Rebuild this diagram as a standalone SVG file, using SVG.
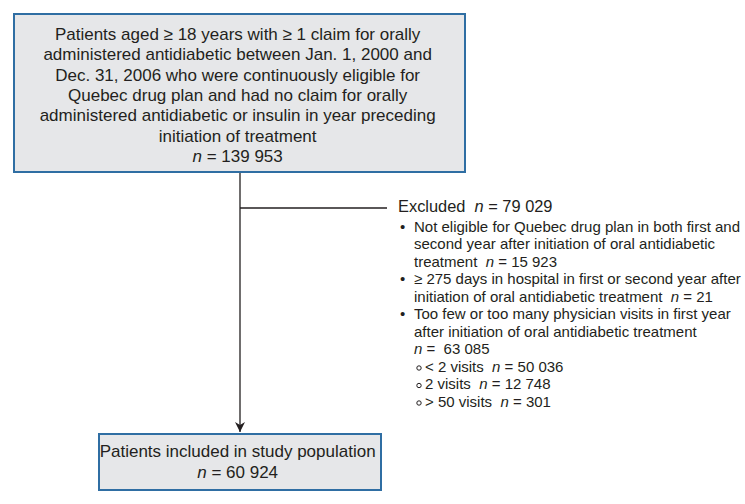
<svg xmlns="http://www.w3.org/2000/svg" width="745" height="504" viewBox="0 0 745 504">
<defs>
<style>
.box{fill:#e6e7e9;stroke:#2f6ea3;stroke-width:2}
.t{font-family:"Liberation Sans",Arial,sans-serif;fill:#231f20;white-space:pre}
.c{font-size:17px;text-anchor:middle}
.l{font-size:15px}
.h{font-size:16.4px}
.conn{stroke:#231f20;stroke-width:1.3;fill:none}
.sub{fill:none;stroke:#231f20;stroke-width:1}
</style>
<marker id="arr" markerWidth="12" markerHeight="12" refX="10" refY="5" orient="auto" markerUnits="userSpaceOnUse">
<path d="M0,0 L10,5 L0,10 L3,5 Z" fill="#231f20"/>
</marker>
</defs>
<g id="connectors">
<line class="conn" x1="240" y1="172" x2="240" y2="432" marker-end="url(#arr)"/>
<line class="conn" x1="240" y1="208" x2="387" y2="208"/>
</g>
<g id="source">
<rect class="box" x="14" y="14" width="451" height="158"/>
<text class="t c" x="240">
<tspan x="240" y="40">Patients aged ≥ 18 years with ≥ 1 claim for orally</tspan>
<tspan x="240" y="60.3">administered antidiabetic between Jan. 1, 2000 and</tspan>
<tspan x="240" y="80.6">Dec. 31, 2006 who were continuously eligible for</tspan>
<tspan x="240" y="100.9">Quebec drug plan and had no claim for orally</tspan>
<tspan x="240" y="121.2">administered antidiabetic or insulin in year preceding</tspan>
<tspan x="240" y="141.5">initiation of treatment</tspan>
<tspan x="240" y="161.8"><tspan font-style="italic">n</tspan> = 139 953</tspan>
</text>
</g>
<g id="excluded">
<text class="t h" x="398" y="211.5">Excluded  <tspan font-style="italic">n</tspan> = 79 029</text>
<text class="t l"><tspan x="400" y="231.5">•</tspan><tspan x="414" y="231.5">Not eligible for Quebec drug plan in both first and</tspan><tspan x="414" y="249">second year after initiation of oral antidiabetic</tspan><tspan x="414" y="266.5">treatment  <tspan font-style="italic">n</tspan> = 15 923</tspan><tspan x="400" y="284">•</tspan><tspan x="414" y="284">≥ 275 days in hospital in first or second year after</tspan><tspan x="414" y="301.5">initiation of oral antidiabetic treatment  <tspan font-style="italic">n</tspan> = 21</tspan><tspan x="400" y="319">•</tspan><tspan x="414" y="319">Too few or too many physician visits in first year</tspan><tspan x="414" y="336.5">after initiation of oral antidiabetic treatment</tspan><tspan x="414" y="354"><tspan font-style="italic">n</tspan> =  63 085</tspan><tspan x="425" y="371.5">&lt; 2 visits  <tspan font-style="italic">n</tspan> = 50 036</tspan><tspan x="425" y="389">2 visits  <tspan font-style="italic">n</tspan> = 12 748</tspan><tspan x="425" y="406.5">&gt; 50 visits  <tspan font-style="italic">n</tspan> = 301</tspan></text>
<circle class="sub" cx="419" cy="368" r="2.2"/>
<circle class="sub" cx="419" cy="385.5" r="2.2"/>
<circle class="sub" cx="419" cy="403" r="2.2"/>
</g>
<g id="included">
<rect class="box" x="99" y="434" width="282" height="56"/>
<text class="t c">
<tspan x="240" y="457">Patients included in study population</tspan>
<tspan x="240" y="478"><tspan font-style="italic">n</tspan> = 60 924</tspan>
</text>
</g>
</svg>
